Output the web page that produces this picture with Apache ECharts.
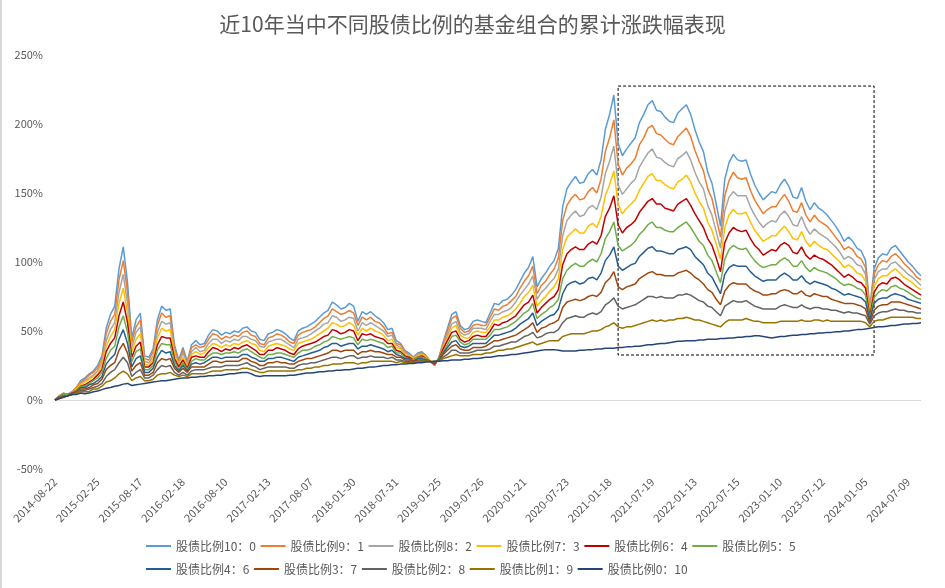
<!DOCTYPE html>
<html>
<head>
<meta charset="utf-8">
<script src="https://cdn.jsdelivr.net/npm/echarts/dist/echarts.min.js"></script>
<style>
  html, body { margin: 0; padding: 0; background: #ffffff; }
  #chart { width: 945px; height: 588px; }
</style>
</head>
<body>
<div id="chart"></div>
<script>
// ---- Tick labels on the date axis (every 10th sampled point) ----
const tickDates = ['2014-08-22','2015-02-25','2015-08-17','2016-02-18','2016-08-10','2017-02-13','2017-08-07','2018-01-30','2018-07-31','2019-01-25','2019-07-26','2020-01-21','2020-07-23','2021-01-18','2021-07-19','2022-01-13','2022-07-15','2023-01-10','2023-07-12','2024-01-05','2024-07-09'];

// ---- Cumulative return (%) per stock:bond ratio, sampled about every 12 trading days ----
const s10 = [0,3,5,4,6,9,14,16,19,21, 25,32,52,62,68,95,111,85,45,58, 63,32,31,37,58,68,65,66,40,29, 38,28,40,43,40,41,47,51,50,47, 49,48,50,49,52,53,50,49,44,43, 48,49,51,50,48,45,43,50,52,53, 55,57,60,63,65,71,69,66,67,70, 68,57,64,62,64,61,59,56,51,52, 43,41,36,34,31,34,35,32,28,25, 31,42,52,62,64,54,51,52,57,58, 57,56,63,70,69,72,73,76,80,86, 92,96,104,82,88,92,97,101,110,140, 153,158,162,157,158,164,167,163,174,196, 207,221,186,177,182,186,190,201,207,214, 217,210,209,205,202,201,208,211,214,207, 196,187,180,165,157,142,126,160,172,178, 174,173,174,164,156,150,145,148,151,150, 156,160,155,147,146,154,144,138,143,139, 137,134,130,126,121,115,118,115,110,108, 101,66,95,103,106,105,110,112,108,104, 100,97,93,90];
const s9 = [0,3,5,4,6,9,13,15,18,20, 23,30,48,57,62,87,101,78,42,53, 58,30,29,35,54,63,60,61,38,28, 36,27,38,40,38,39,44,48,47,44, 46,45,47,46,49,50,47,46,41,40, 45,46,48,47,45,42,41,47,49,50, 51,53,56,59,61,66,64,62,63,65, 63,54,60,58,60,57,56,53,48,49, 41,40,35,33,31,33,34,32,28,25, 31,41,50,59,61,52,49,50,54,55, 54,54,60,66,65,68,69,72,75,81, 86,90,97,77,83,86,91,95,103,130, 141,146,149,145,146,151,154,150,160,180, 190,203,171,163,168,171,175,185,190,197, 199,193,192,189,186,185,191,194,197,191, 181,173,166,153,146,132,118,148,159,165, 161,160,161,152,145,140,135,138,140,140, 145,149,144,137,136,143,134,129,134,130, 128,126,122,118,114,109,111,109,104,102, 96,65,91,98,101,100,104,106,103,99, 96,93,89,87];
const s8 = [0,3,4,4,6,8,12,14,16,18, 21,27,43,51,56,78,91,70,38,49, 53,28,27,32,49,57,55,56,35,26, 34,26,35,38,35,36,41,44,44,41, 43,42,44,43,46,46,44,43,39,38, 42,43,44,44,42,40,38,44,45,46, 48,50,52,55,56,61,60,57,58,60, 59,50,56,54,56,54,52,50,46,47, 40,38,34,33,30,33,33,31,28,26, 30,39,47,55,57,49,47,48,52,52, 52,51,57,62,62,64,65,67,71,76, 80,84,90,73,78,81,85,88,95,119, 130,134,137,133,134,139,141,138,147,164, 173,184,156,149,153,157,160,169,174,179, 182,176,175,172,170,169,175,177,180,174, 165,158,153,141,134,122,110,137,147,151, 148,148,148,140,134,129,125,128,130,129, 134,137,133,127,126,133,125,120,124,121, 119,117,114,111,107,102,104,102,98,97, 91,63,87,93,95,95,99,100,97,94, 91,89,86,83];
const s7 = [0,2,4,4,5,8,11,13,15,17, 19,25,39,46,51,70,81,63,35,44, 48,26,25,30,45,52,50,51,33,25, 31,24,33,35,33,34,38,41,40,38, 40,39,41,40,42,43,41,40,36,35, 39,40,41,40,39,37,36,41,42,43, 44,46,48,50,52,56,55,53,54,56, 54,47,52,50,52,50,49,47,43,44, 38,37,33,32,30,32,33,31,28,26, 30,38,45,52,54,47,45,45,49,50, 49,49,53,58,58,60,61,63,66,70, 75,78,83,68,72,75,79,82,88,109, 118,121,124,121,121,126,128,125,133,148, 156,166,142,135,139,142,145,152,157,162, 164,159,159,156,154,153,158,160,163,158, 150,144,139,129,123,113,102,125,134,138, 135,135,136,129,123,119,115,117,119,119, 123,126,122,117,116,122,115,111,115,112, 110,109,106,103,100,96,98,96,92,91, 86,62,82,88,90,90,93,95,92,89, 87,85,82,80];
const s6 = [0,2,4,4,5,7,10,11,13,15, 18,22,35,41,45,61,71,56,31,39, 42,24,24,27,40,46,45,45,30,24, 29,23,31,32,31,31,35,38,37,35, 37,36,38,37,39,40,38,36,33,33, 36,36,38,37,36,34,33,37,39,40, 41,42,44,46,47,51,50,48,49,51, 50,43,48,47,48,46,45,44,41,41, 36,35,32,31,29,31,32,30,28,26, 30,37,43,49,50,44,42,43,46,47, 46,46,50,55,54,56,57,59,61,65, 69,71,76,63,67,70,73,75,80,98, 106,109,111,109,109,113,115,113,119,133, 139,148,127,121,125,127,130,136,140,144, 146,142,142,139,138,137,142,144,146,141, 135,130,125,117,112,103,93,114,121,125, 123,122,123,117,112,109,105,107,109,108, 112,114,112,107,106,111,105,102,105,103, 102,100,98,95,92,89,91,89,86,85, 81,60,78,83,85,84,88,89,87,84, 82,80,78,76];
const s5 = [0,2,4,4,5,7,10,10,12,14, 16,20,30,36,39,53,61,49,28,35, 37,22,22,25,36,41,40,40,28,22, 27,22,28,30,29,29,32,34,34,33, 34,34,35,34,36,37,35,33,31,30, 33,33,34,34,33,32,31,34,36,36, 37,39,40,42,43,46,45,44,45,46, 45,40,44,43,44,43,42,41,38,39, 34,34,31,30,29,31,31,30,28,27, 30,35,40,46,47,42,40,41,44,44, 44,44,47,51,51,52,53,55,57,60, 63,65,70,59,62,64,67,69,73,88, 94,97,99,97,97,100,102,100,106,117, 122,129,112,108,110,112,115,120,123,127, 129,125,125,123,122,122,125,127,129,125, 120,115,112,105,101,93,85,102,109,112, 110,109,110,105,101,98,96,97,98,98, 101,103,101,97,97,101,96,93,96,94, 93,92,90,88,85,83,84,83,81,80, 76,59,74,78,80,79,82,83,81,80, 78,76,74,73];
const s4 = [0,2,3,3,5,6,9,9,11,12, 14,17,26,30,33,44,51,41,24,30, 32,20,20,23,31,36,34,35,25,21, 25,21,26,27,26,27,29,31,31,30, 31,31,31,31,33,33,31,30,28,28, 30,30,31,31,30,29,28,31,32,33, 34,35,36,38,39,41,41,39,40,41, 41,37,39,39,40,39,38,37,35,36, 33,32,30,30,28,30,30,29,28,27, 29,34,38,42,43,39,38,39,41,41, 41,41,44,47,47,48,49,50,52,55, 57,59,63,54,57,59,61,62,66,77, 83,85,86,84,85,88,89,87,92,101, 105,111,97,94,96,98,99,104,107,110, 111,108,108,107,106,106,109,110,111,109, 104,101,98,92,89,83,77,91,96,98, 97,97,97,93,90,88,86,87,87,87, 90,92,90,87,87,90,86,84,86,85, 84,83,81,80,78,76,77,76,75,74, 71,58,70,73,74,74,76,77,76,75, 73,72,71,70];
const s3 = [0,2,3,3,5,6,8,8,9,11, 12,15,22,25,27,36,41,34,21,25, 27,18,18,20,27,30,29,30,23,20, 23,20,24,24,24,24,26,28,28,27, 28,28,28,28,30,30,28,27,25,25, 27,27,28,27,27,26,26,28,29,30, 30,31,32,33,34,36,36,35,36,36, 36,33,35,35,36,35,35,34,33,33, 31,31,29,29,28,29,29,29,28,27, 29,33,36,39,40,37,36,36,38,38, 38,39,41,43,43,44,45,46,47,49, 51,53,56,49,52,53,55,56,58,67, 71,72,73,72,73,75,76,75,78,85, 88,93,82,80,82,83,84,88,90,92, 93,91,91,90,90,90,92,93,94,92, 89,87,84,80,78,73,69,79,83,85, 84,84,84,81,79,78,76,76,77,77, 79,80,79,77,77,79,76,75,77,76, 75,75,73,72,71,70,70,70,69,68, 66,56,65,68,69,69,71,71,71,70, 69,68,67,66];
const s2 = [0,1,3,3,4,5,7,7,8,9, 10,12,17,20,22,27,31,27,17,20, 22,16,16,18,22,25,24,25,20,18, 20,18,21,22,22,22,23,24,24,24, 25,25,25,25,26,27,25,24,22,23, 24,24,24,24,24,23,23,25,26,26, 27,27,28,29,30,31,31,30,31,32, 32,30,31,31,32,31,31,31,30,31, 29,29,28,28,27,28,29,28,28,27, 29,31,33,36,36,34,34,34,35,36, 36,36,37,39,39,40,41,42,42,44, 46,47,49,45,46,48,49,49,51,56, 59,60,61,60,60,62,63,62,64,69, 71,74,68,66,67,68,69,71,73,75, 75,74,75,74,74,74,76,76,77,76, 74,72,71,68,67,64,61,68,70,72, 71,71,72,70,68,67,66,66,66,66, 68,69,68,67,67,69,67,66,67,67, 66,66,65,65,64,63,64,63,63,62, 61,55,61,63,64,64,65,66,65,65, 64,64,63,63];
const s1 = [0,1,2,3,4,5,6,6,6,8, 8,10,13,14,16,19,21,19,14,16, 17,14,14,15,18,19,19,20,18,17, 18,17,19,19,19,19,20,21,21,21, 22,22,22,22,23,23,22,21,20,20, 21,21,21,21,21,21,21,22,22,23, 23,24,24,25,25,26,26,26,27,27, 27,26,27,27,28,28,28,28,28,28, 27,28,27,27,27,28,28,28,28,28, 28,30,31,32,33,32,32,32,33,33, 33,34,34,35,36,36,37,37,38,39, 40,41,42,40,41,42,43,43,43,46, 47,48,48,48,48,49,50,50,51,53, 54,56,53,52,53,53,54,55,56,57, 58,57,58,57,58,58,59,59,60,59, 58,58,57,56,55,54,53,56,58,58, 58,58,59,58,57,57,56,56,56,56, 57,57,57,57,57,58,57,57,58,58, 57,58,57,57,57,57,57,57,57,57, 56,53,57,58,58,59,60,60,60,60, 60,60,59,59];
const s0 = [0,1,2,3,4,4,5,4.5,5,6, 6.5,7.5,8.5,9,10,10.5,11.5,12,10.5,11, 11.5,12,12.5,13,13.5,14,14,14.5,15,15.5, 16,16,16.5,16.5,17,17,17.5,17.5,18,18, 18.5,19,19,19.5,20,20,19,17.5,17,17.5, 17.5,17.5,17.5,17.5,17.5,18,18,18.5,19,19.5, 19.5,20,20.5,20.5,21,21,21.5,21.5,22,22, 22.5,23,23,23.5,24,24,24.5,25,25,25.5, 25.5,26,26,26.5,26.5,27,27,27.5,27.5,28, 28,28.5,28.5,29,29,29,29.5,29.5,30,30, 30.5,31,31,31.5,32,32,32.5,33,33,33.5, 34,34.5,35,35.5,36,36.5,36.5,36.5,36,35.5, 35.5,35.5,35.5,36,36,36.5,36.5,37,37,37.5, 37.5,37.5,38,38,38.5,38.5,39,39,39.5,40, 40,40.5,41,41,41.5,42,42.5,42.5,43,43, 43,43.5,43.5,44,44,44,44.5,44.5,45,45, 45.5,45.5,46,46,46.5,46.5,46,45.5,45,45.5, 46,46,46.5,47,47,47.5,47.5,48,48,48.5, 48.5,49,49,49.5,49.5,50,50,50.5,51,51, 51.5,52,52.5,53,53,53.5,54,54,54.5,55, 55,55.5,55.5,56];

const seriesNames = ['股债比例10：0','股债比例9：1','股债比例8：2','股债比例7：3','股债比例6：4','股债比例5：5','股债比例4：6','股债比例3：7','股债比例2：8','股债比例1：9','股债比例0：10'];
const seriesData = [s10, s9, s8, s7, s6, s5, s4, s3, s2, s1, s0];
const seriesColors = ['#5B9BD5','#ED7D31','#A5A5A5','#FFC000','#C00000','#70AD47','#255E91','#9E480E','#636363','#997300','#264478'];

// highlighted period (dashed box): category indices and value range
const boxFromIndex = 132, boxToIndex = 192;
const boxTop = 227.5, boxBottom = 32.6;

// ---- Category names: tick dates at every 10th point, calendar-spaced dates between them ----
const STEP = 10;
function buildCategories(n) {
  const t = tickDates.map(d => new Date(d + 'T00:00:00Z').getTime());
  const last = t.length - 1;
  const span = t[last] - t[last - 1];
  const out = [];
  for (let j = 0; j < n; j++) {
    const k = Math.floor(j / STEP), r = j % STEP;
    if (r === 0 && k <= last) { out.push(tickDates[k]); continue; }
    let ms;
    if (k < last) ms = t[k] + (t[k + 1] - t[k]) * r / STEP;
    else ms = t[last] + span * (j - STEP * last) / STEP;
    out.push(new Date(ms).toISOString().slice(0, 10));
  }
  return out;
}
const categories = buildCategories(s10.length);

const FONT = '"Noto Sans CJK SC", "Noto Sans", sans-serif';
const GREY = '#595959';

const series = seriesNames.map((name, i) => {
  const s = {
    name: name,
    type: 'line',
    data: seriesData[i],
    symbol: 'none',
    showSymbol: false,
    lineStyle: { width: 1.5, color: seriesColors[i] },
    itemStyle: { color: seriesColors[i] },
    emphasis: { disabled: true }
  };
  if (i === 0) {
    s.markArea = {
      silent: true,
      label: { show: false },
      itemStyle: { color: 'rgba(0,0,0,0)', borderColor: '#000000', borderWidth: 1, borderType: [3, 2] },
      data: [[
        { xAxis: categories[boxFromIndex], yAxis: boxTop },
        { xAxis: categories[boxToIndex], yAxis: boxBottom }
      ]]
    };
  }
  return s;
});

const legendCommon = {
  left: 146,
  padding: 0,
  icon: 'rect',
  itemWidth: 25,
  itemHeight: 2,
  itemGap: 4.6,
  textStyle: { color: GREY, fontSize: 12, fontFamily: FONT, width: 78 }
};

const chart = echarts.init(document.getElementById('chart'), null, { renderer: 'canvas' });
chart.setOption({
  animation: false,
  backgroundColor: '#ffffff',
  title: {
    text: '近10年当中不同股债比例的基金组合的累计涨跌幅表现',
    left: 'center',
    top: 9,
    textStyle: { color: GREY, fontSize: 21, fontWeight: 'normal', fontFamily: FONT }
  },
  legend: [
    Object.assign({}, legendCommon, { top: 540, data: seriesNames.slice(0, 6) }),
    Object.assign({}, legendCommon, { top: 563, data: seriesNames.slice(6) })
  ],
  grid: { left: 55, right: 24, top: 55, bottom: 119, containLabel: false },
  xAxis: {
    type: 'category',
    data: categories,
    boundaryGap: false,
    axisLine: { show: false },
    axisTick: { show: false },
    splitLine: { show: false },
    axisLabel: {
      interval: STEP - 1,
      rotate: 45,
      margin: 11,
      color: GREY,
      fontSize: 11,
      fontFamily: FONT
    }
  },
  yAxis: {
    type: 'value',
    min: -50,
    max: 250,
    interval: 50,
    axisLine: { show: false },
    axisTick: { show: false },
    axisLabel: {
      formatter: v => v + '%',
      color: GREY,
      fontSize: 11,
      fontFamily: FONT,
      margin: 12
    },
    splitLine: {
      show: true,
      lineStyle: {
        width: 1,
        color: ['rgba(0,0,0,0)', '#d9d9d9', 'rgba(0,0,0,0)', 'rgba(0,0,0,0)', 'rgba(0,0,0,0)', 'rgba(0,0,0,0)', 'rgba(0,0,0,0)']
      }
    }
  },
  graphic: [{
    type: 'line',
    silent: true,
    shape: { x1: 1, y1: 0, x2: 1, y2: 588 },
    style: { stroke: '#d9d9d9', lineWidth: 2 }
  }],
  series: series
});
</script>
</body>
</html>
